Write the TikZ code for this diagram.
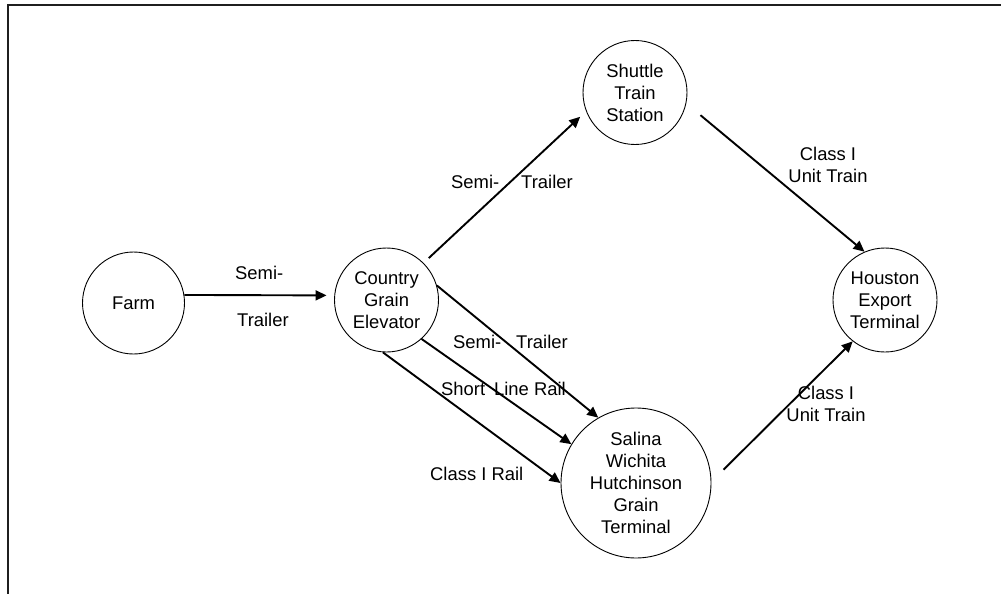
\documentclass[tikz,border=0pt]{standalone}
\usepackage{fontspec}
\setmainfont{Liberation Sans}
\usetikzlibrary{arrows.meta}
\tikzset{
  place/.style={draw, circle, line width=0.9pt, inner sep=0pt, align=center,
    font=\fontsize{18.4}{22}\selectfont},
  lbl/.style={inner sep=0pt, align=center, font=\fontsize{18.4}{22.5}\selectfont},
  arr/.style={line width=1.9pt, -{Triangle[length=11pt,width=10pt]}},
  frameline/.style={line width=2pt, color=black!88}
}
\begin{document}
\begin{tikzpicture}[x=1pt,y=-1pt]
\useasboundingbox (0,0) rectangle (1001,594);
\draw[frameline] (8,594) -- (8,5.5) -- (1001,5.5);

\node[place, minimum size=102pt] (farm) at (133.5,303) {Farm};
\node[place, minimum size=104pt] (cge) at (386.5,300) {Country\\Grain\\Elevator};
\node[place, minimum size=104pt] (shuttle) at (635,92.5) {Shuttle\\Train\\Station};
\node[place, minimum size=104pt] (houston) at (885,300) {Houston\\Export\\Terminal};
\node[place, minimum size=150pt] (salina) at (636,483) {Salina\\Wichita\\Hutchinson\\Grain\\Terminal};

\draw[arr, shorten >=7.7pt] (farm.9) -- (cge.175);
\draw[arr, shorten <=7pt, shorten >=8pt] (cge.45.6) -- (shuttle.201.3);
\draw[arr] (cge.16) -- (salina.120);
\draw[arr] (cge.312) -- (salina.149);
\draw[arr] (cge.266) -- (salina.180);
\draw[arr, shorten <=18.4pt] (shuttle.348) -- (houston.113.7);
\draw[arr, shorten <=17pt] (salina.1) -- (houston.232.5);

\node[lbl, anchor=base west] (l1a) at (235,279) {Semi-};
\node[lbl, anchor=base west] (l1b) at (237,326) {Trailer};
\node[lbl, anchor=base west] (l2) at (451,188) {Semi-\hspace{22pt}Trailer};
\node[lbl, anchor=base west] (l3) at (453,348) {Semi-\hspace{15pt}Trailer};
\node[lbl, anchor=base west] (l4) at (441,395) {Short\hspace{9pt}Line Rail};
\node[lbl, anchor=base west] (l5) at (430,480) {Class I Rail};
\node[lbl] (l6) at (828,165) {Class I\\Unit Train};
\node[lbl] (l7) at (826,404) {Class I\\Unit Train};
\end{tikzpicture}
\end{document}
